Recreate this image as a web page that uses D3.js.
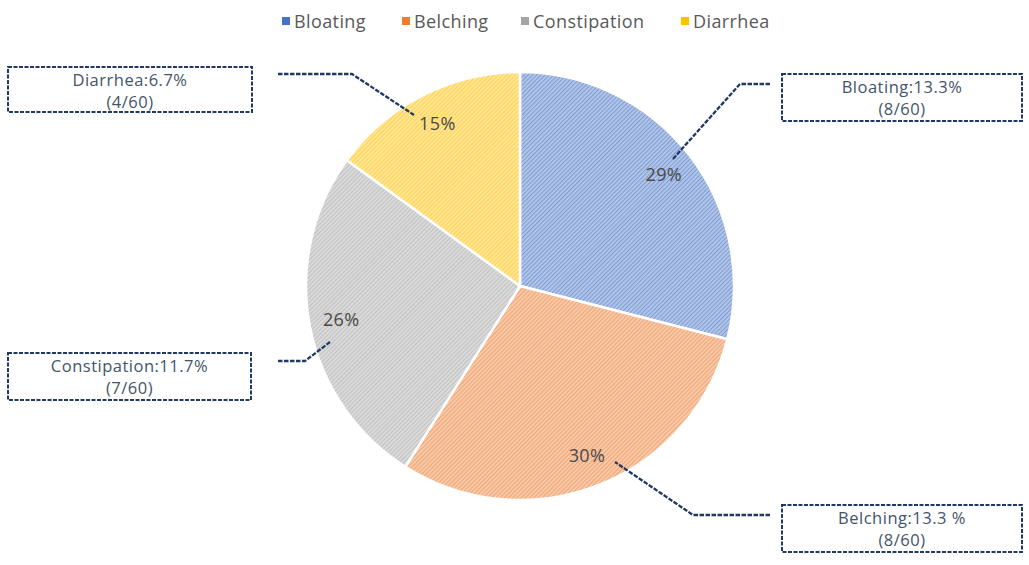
<!DOCTYPE html>
<html>
<head>
<meta charset="utf-8">
<script src="https://cdn.jsdelivr.net/npm/d3@7"></script>
<style>
  html, body { margin: 0; padding: 0; background: #fff; }
  svg { display: block; }
</style>
</head>
<body>
<svg id="chart" width="1029" height="565"></svg>
<script>
// Symptom categories and their share of the pie (percent labels)
const categories = ["Bloating", "Belching", "Constipation", "Diarrhea"];
const shares = [29, 30, 26, 15];
// Callout text for each symptom
const calloutRates = ["13.3%", "13.3 %", "11.7%", "6.7%"];
const calloutCounts = ["(8/60)", "(8/60)", "(7/60)", "(4/60)"];
const colors = ["#4472c4", "#ed7d31", "#a5a5a5", "#ffc000"];

const svg = d3.select("#chart");
const cx = 520, cy = 286, R = 214;
const font = "'Open Sans', sans-serif";

// Diagonal hatch pattern per slice
const defs = svg.append("defs");
colors.forEach((c, i) => {
  const p = defs.append("pattern")
    .attr("id", "hatch" + i)
    .attr("patternUnits", "userSpaceOnUse")
    .attr("width", 3).attr("height", 3)
    .attr("patternTransform", "rotate(45)");
  p.append("rect").attr("width", 3).attr("height", 3)
    .attr("fill", d3.interpolateRgb(c, "#fff")(0.62));
  p.append("rect").attr("width", 1.2).attr("height", 3)
    .attr("fill", d3.interpolateRgb(c, "#fff")(0.3));
});

const pie = d3.pie().sort(null).value(d => d.v);
const data = pie(categories.map((c, i) => ({ c, v: shares[i], i })));
const arc = d3.arc().innerRadius(0).outerRadius(R);
const labelArc = d3.arc().innerRadius(182).outerRadius(182);

const g = svg.append("g").attr("transform", `translate(${cx},${cy})`);
g.selectAll("path.slice").data(data).join("path")
  .attr("class", "slice")
  .attr("d", arc)
  .attr("fill", d => `url(#hatch${d.data.i})`)
  .attr("stroke", "#fff")
  .attr("stroke-width", 2.5);

// Callout boxes [x, y, w, h] and leader lines
const callouts = [
  { box: [782, 74, 240, 47], pts: [[770, 84], [740, 84], [672, 160]] },
  { box: [782, 505, 240, 47], pts: [[770, 515], [693, 515], [615, 462]] },
  { box: [8, 353, 243, 47], pts: [[278, 361], [305, 361], [330, 342]] },
  { box: [8, 67, 244, 45], pts: [[278, 74], [352, 74], [414, 115]] }
];
const navy = "#1f3864";
const line = d3.line();

const cg = svg.append("g");
callouts.forEach((co, i) => {
  const [bx, by, bw, bh] = co.box;
  cg.append("path")
    .attr("d", line(co.pts))
    .attr("fill", "none")
    .attr("stroke", navy)
    .attr("stroke-width", 2.3)
    .attr("stroke-dasharray", "4.5,1.5");
  cg.append("rect")
    .attr("x", bx).attr("y", by)
    .attr("width", bw).attr("height", bh)
    .attr("fill", "#fff")
    .attr("stroke", navy)
    .attr("stroke-width", 2)
    .attr("stroke-dasharray", "4,1.5");
  const t = cg.append("text")
    .attr("text-anchor", "middle")
    .attr("font-family", font)
    .attr("font-size", 16.5)
    .attr("letter-spacing", 0.5)
    .attr("fill", "#44546a");
  t.append("tspan").attr("x", bx + bw / 2).attr("y", by + 19)
    .text(categories[i] + ":" + calloutRates[i]);
  t.append("tspan").attr("x", bx + bw / 2).attr("y", by + 41)
    .text(calloutCounts[i]);
});

// Percent labels inside slices
g.selectAll("text.pct").data(data).join("text")
  .attr("class", "pct")
  .attr("transform", d => `translate(${labelArc.centroid(d)})`)
  .attr("text-anchor", "middle")
  .attr("dy", "0.35em")
  .attr("font-family", font)
  .attr("font-size", 18)
  .attr("letter-spacing", 0.4)
  .attr("fill", "#4a4a4a")
  .text(d => d.data.v + "%");

// Legend across the top
const legendX = [282, 402, 521, 681];
const lg = svg.append("g");
categories.forEach((c, i) => {
  lg.append("rect").attr("x", legendX[i]).attr("y", 17)
    .attr("width", 8).attr("height", 8).attr("fill", colors[i]);
  lg.append("text").attr("x", legendX[i] + 12).attr("y", 28)
    .attr("font-family", font)
    .attr("font-size", 18)
    .attr("letter-spacing", 0.4)
    .attr("fill", "#595959")
    .text(c);
});
</script>
</body>
</html>
